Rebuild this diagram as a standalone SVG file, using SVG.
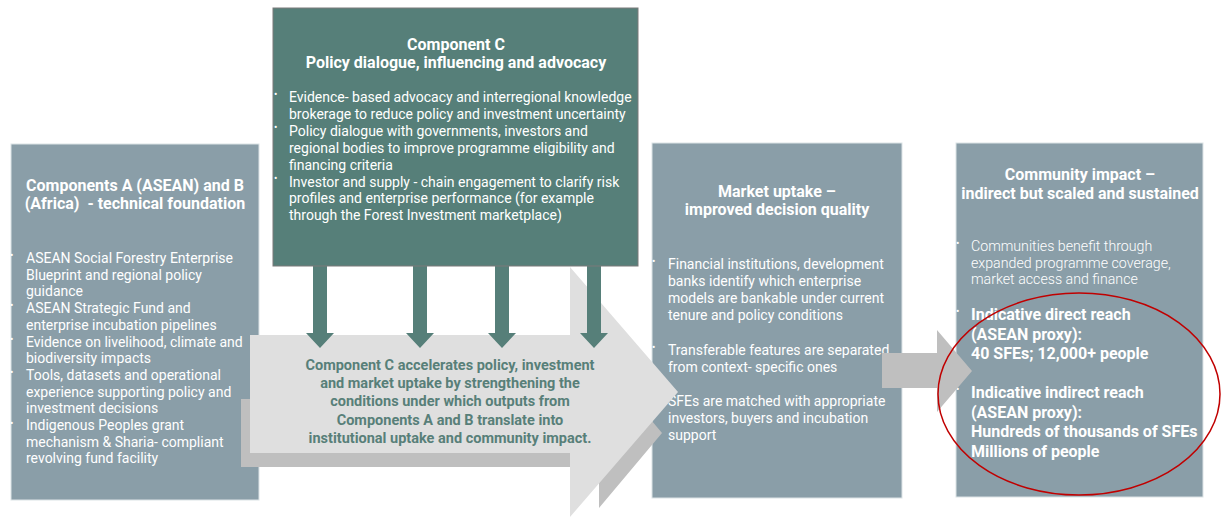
<svg xmlns="http://www.w3.org/2000/svg" width="1224" height="517" viewBox="0 0 1224 517">
<style>
.box{fill:#8A9EA8;stroke:#DCE3E6;stroke-width:1}
.boxc{fill:#567F79;stroke:#7A7A7A;stroke-width:1}
.t{font-family:Roboto,"Liberation Sans",sans-serif;fill:#FFFFFF}
.title{font-size:16px;font-weight:bold;text-anchor:middle}
.body{font-size:14px}
.light{font-weight:300;font-size:14.2px}
.bold{font-size:16px;font-weight:bold}
.bul{font-size:10px}
.mid{font-family:Roboto,"Liberation Sans",sans-serif;fill:#587F79;font-size:14.5px;font-weight:bold;text-anchor:middle}
.down{fill:#567F79}
</style>
<rect width="1224" height="517" fill="#FFFFFF"/>

<g id="node-ab">
<rect class="box" x="11" y="144" width="248" height="356"/>
<text class="t title"><tspan x="135" y="191">Components A (ASEAN) and B</tspan><tspan x="135" y="209">(Africa)&#160; - technical foundation</tspan></text>
<text class="t bul"><tspan x="10" y="258.5">•</tspan><tspan x="10" y="308.5">•</tspan><tspan x="10" y="342.5">•</tspan><tspan x="10" y="375.5">•</tspan><tspan x="10" y="426.5">•</tspan></text>
<text class="t body"><tspan x="26" y="263">ASEAN Social Forestry Enterprise</tspan><tspan x="26" y="279.7">Blueprint and regional policy</tspan><tspan x="26" y="296.4">guidance</tspan><tspan x="26" y="313.1">ASEAN Strategic Fund and</tspan><tspan x="26" y="329.8">enterprise incubation pipelines</tspan><tspan x="26" y="346.5">Evidence on livelihood, climate and</tspan><tspan x="26" y="363.2">biodiversity impacts</tspan><tspan x="26" y="379.9">Tools, datasets and operational</tspan><tspan x="26" y="396.6">experience supporting policy and</tspan><tspan x="26" y="413.3">investment decisions</tspan><tspan x="26" y="430">Indigenous Peoples grant</tspan><tspan x="26" y="446.7">mechanism &amp; Sharia- compliant</tspan><tspan x="26" y="463.4">revolving fund facility</tspan></text>
</g>

<g id="node-market">
<rect class="box" x="652" y="143" width="250" height="355"/>
<text class="t title"><tspan x="777" y="197">Market uptake –</tspan><tspan x="777" y="215">improved decision quality</tspan></text>
<text class="t bul"><tspan x="652" y="264.5">•</tspan><tspan x="652" y="350.5">•</tspan><tspan x="652" y="401.5">•</tspan></text>
<text class="t body"><tspan x="668" y="269">Financial institutions, development</tspan><tspan x="668" y="286">banks identify which enterprise</tspan><tspan x="668" y="303">models are bankable under current</tspan><tspan x="668" y="320">tenure and policy conditions</tspan><tspan x="668" y="355">Transferable features are separated</tspan><tspan x="668" y="372">from context- specific ones</tspan><tspan x="668" y="406">SFEs are matched with appropriate</tspan><tspan x="668" y="423">investors, buyers and incubation</tspan><tspan x="668" y="440">support</tspan></text>
</g>

<g id="node-community">
<rect class="box" x="956" y="143" width="247" height="354"/>
<text class="t title"><tspan x="1080" y="180">Community impact –</tspan><tspan x="1080" y="199">indirect but scaled and sustained</tspan></text>
<text class="t bul"><tspan x="956" y="246.5">•</tspan><tspan x="956" y="314.5">•</tspan><tspan x="956" y="392.5">•</tspan></text>
<text class="t body light"><tspan x="971" y="251">Communities benefit through</tspan><tspan x="971" y="267.5">expanded programme coverage,</tspan><tspan x="971" y="284">market access and finance</tspan></text>
<text class="t bold"><tspan x="971" y="320">Indicative direct reach</tspan><tspan x="971" y="339.5">(ASEAN proxy):</tspan><tspan x="971" y="359">40 SFEs; 12,000+ people</tspan><tspan x="971" y="398">Indicative indirect reach</tspan><tspan x="971" y="417.5">(ASEAN proxy):</tspan><tspan x="971" y="437">Hundreds of thousands of SFEs</tspan><tspan x="971" y="456.5">Millions of people</tspan></text>
</g>

<g id="connectors">
<polygon id="main-arrow-shadow" fill="#BFBFBF" points="241,399 599,399 599,358 662,433 599,508 599,467 241,467"/>
<polygon id="main-arrow" fill="#DFDFDF" points="250,335 570,335 570,267 678,392 570,517 570,453 250,453"/>
<polygon id="small-arrow" fill="#BFBFBF" points="882,353 937,353 937,330 972,371 937,412 937,388 882,388"/>
<polygon class="down" points="313,266 327,266 327,333 334,333 320,348 306,333 313,333"/>
<polygon class="down" points="413,266 427,266 427,333 434,333 420,348 406,333 413,333"/>
<polygon class="down" points="495,266 509,266 509,333 516,333 502,348 488,333 495,333"/>
<polygon class="down" points="587,266 601,266 601,333 608,333 594,348 580,333 587,333"/>
</g>

<g id="node-c">
<rect class="boxc" x="273" y="8" width="365" height="258"/>
<text class="t title"><tspan x="456" y="50">Component C</tspan><tspan x="456" y="68">Policy dialogue, influencing and advocacy</tspan></text>
<text class="t bul"><tspan x="274" y="97.5">•</tspan><tspan x="274" y="131">•</tspan><tspan x="274" y="182">•</tspan></text>
<text class="t body"><tspan x="289" y="102">Evidence- based advocacy and interregional knowledge</tspan><tspan x="289" y="118.9">brokerage to reduce policy and investment uncertainty</tspan><tspan x="289" y="135.8">Policy dialogue with governments, investors and</tspan><tspan x="289" y="152.7">regional bodies to improve programme eligibility and</tspan><tspan x="289" y="169.6">financing criteria</tspan><tspan x="289" y="186.5">Investor and supply - chain engagement to clarify risk</tspan><tspan x="289" y="203.4">profiles and enterprise performance (for example</tspan><tspan x="289" y="220.3">through the Forest Investment marketplace)</tspan></text>
</g>

<g id="node-accelerate">
<text class="mid"><tspan x="450" y="370">Component C accelerates policy, investment</tspan><tspan x="450" y="388.2">and market uptake by strengthening the</tspan><tspan x="450" y="406.4">conditions under which outputs from</tspan><tspan x="450" y="424.6">Components A and B translate into</tspan><tspan x="450" y="442.8">institutional uptake and community impact.</tspan></text>
</g>

<g id="highlight">
<ellipse cx="1079" cy="394" rx="141" ry="101" fill="none" stroke="#C00000" stroke-width="1.5"/>
</g>
</svg>
